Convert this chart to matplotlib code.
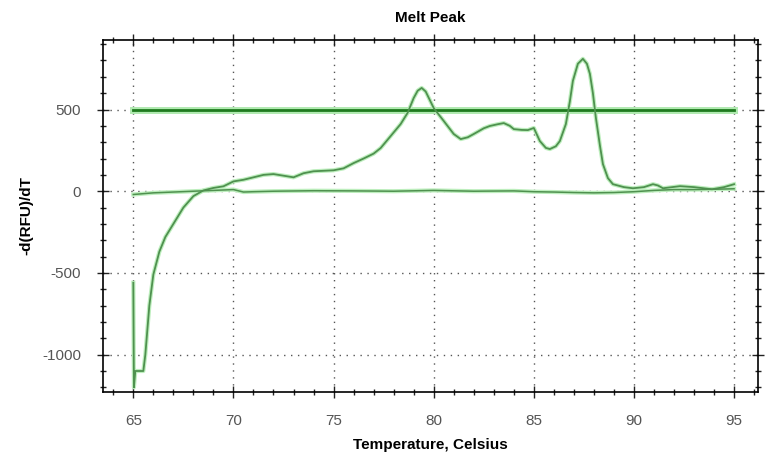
import matplotlib
matplotlib.use("Agg")
import matplotlib.pyplot as plt
from matplotlib.ticker import MultipleLocator

plt.rcParams['font.family'] = ['Liberation Sans', 'DejaVu Sans']
plt.rcParams['axes.unicode_minus'] = False

# melt peak sample curve
temp = [65.0, 65.03, 65.1, 65.5, 65.6, 65.8, 66.0, 66.3, 66.6, 67.0, 67.5, 68.0,
        68.5, 69.0, 69.5, 70.0, 70.5, 71.0, 71.5, 72.0, 72.5, 73.0, 73.5, 74.0,
        75.0, 75.5, 76.0, 76.5, 77.0, 77.35, 77.8, 78.35, 78.7, 79.0, 79.2, 79.4,
        79.6, 80.0, 80.5, 81.0, 81.35, 81.7, 82.0, 82.5, 82.8, 83.2, 83.5, 83.8,
        84.0, 84.4, 84.7, 85.0, 85.3, 85.6, 85.8, 86.1, 86.3, 86.6, 86.8, 86.95,
        87.2, 87.45, 87.65, 87.8, 87.95, 88.1, 88.3, 88.45, 88.7, 88.95, 89.5,
        89.95, 90.5, 90.95, 91.2, 91.45, 92.3, 93.0, 93.9, 94.5, 95.0]
drfu = [-560, -1200, -1100, -1100, -1000, -700, -510, -370, -280, -200, -100, -30,
        5, 20, 30, 60, 70, 85, 100, 105, 95, 85, 110, 122,
        128, 140, 172, 200, 230, 264, 330, 411, 480, 570, 615, 632,
        610, 509, 430, 350, 319, 330, 350, 385, 399, 410, 417, 400,
        380, 375, 374, 387, 307, 265, 258, 275, 307, 411, 550, 675,
        780, 810, 780, 718, 600, 448, 280, 166, 80, 43, 25,
        18, 25, 43, 35, 18, 31, 25, 12, 25, 43]

# negative control / baseline
base_t = [65.0, 65.5, 66, 67, 68, 69, 70, 70.5, 71, 72, 74, 76, 78, 80, 82, 84,
          85, 86, 87, 88, 89, 90, 91, 92, 93, 94, 95]
base_v = [-20, -15, -10, -5, 0, 5, 10, -5, -3, 0, 3, 2, 0, 5, 0, 2,
          -3, -5, -8, -10, -8, -3, 5, 10, 10, 12, 15]

threshold = 500
thr_t = [65, 95]

fig = plt.figure(figsize=(7.65, 4.55), dpi=100)
ax = fig.add_axes([0.135, 0.139, 0.856, 0.773])

# light halo under each trace
ax.plot(thr_t, [threshold, threshold], color="#b0eab0", lw=5, zorder=2)
ax.plot(thr_t, [threshold, threshold], color="#1f7a1f", lw=2.0, zorder=3)
ax.plot(base_t, base_v, color="#bdeebd", lw=3, zorder=2)
ax.plot(base_t, base_v, color="#4f914f", lw=1.1, zorder=3)
ax.plot(temp, drfu, color="#bdeebd", lw=3, zorder=2)
ax.plot(temp, drfu, color="#4f914f", lw=1.3, zorder=3)

ax.set_xlim(63.5, 96.2)
ax.set_ylim(-1227, 925)
ax.xaxis.set_major_locator(MultipleLocator(5))
ax.xaxis.set_minor_locator(MultipleLocator(1))
ax.yaxis.set_major_locator(MultipleLocator(500))
ax.yaxis.set_minor_locator(MultipleLocator(100))
ax.tick_params(which="both", direction="inout", top=True, right=True,
               labelsize=11, labelcolor="#555555", colors="#222222")
ax.tick_params(which="major", length=8, width=1)
ax.tick_params(which="minor", length=5, width=1)
ax.tick_params(axis="x", pad=12)
ax.tick_params(axis="y", pad=12)
ax.grid(True, which="major", linestyle=(0, (1, 4)), color="#555555", lw=1)
for s in ax.spines.values():
    s.set_linewidth(1.2)

ax.set_title("Melt Peak", fontsize=11, fontweight="bold", pad=13)
ax.set_xlabel("Temperature, Celsius", fontsize=11, fontweight="bold", labelpad=7)
ax.set_ylabel("-d(RFU)/dT", fontsize=11, fontweight="bold", labelpad=6)

fig.savefig("out.png", dpi=100)
